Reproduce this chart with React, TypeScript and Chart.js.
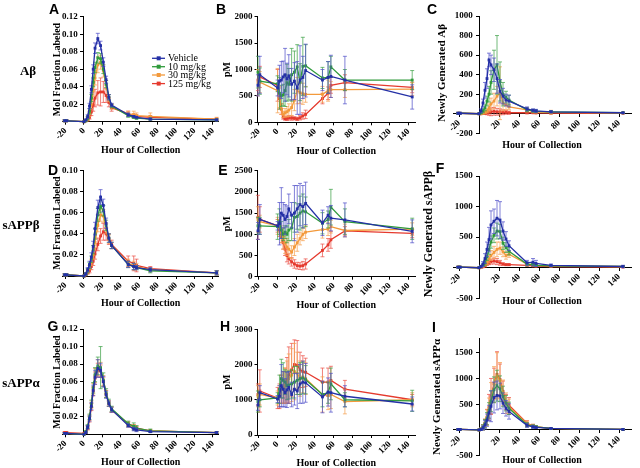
import { useEffect, useRef } from 'react';
import { Chart, registerables } from 'chart.js';
Chart.register(...registerables);

const FONT = '"Liberation Serif", "Times New Roman", serif';
const SANS = '"Liberation Sans", Arial, sans-serif';

// ---------- data ----------
const HOURS = [-21, -19, 0, 2, 4, 6, 8, 10, 12, 15, 18, 21, 24, 27, 30, 48, 54, 57, 72, 144];
const X_TICKS = [-20, 0, 20, 40, 60, 80, 100, 120, 140];
const SERIES_LABELS = ['Vehicle', '10 mg/kg', '30 mg/kg', '125 mg/kg'];
const SERIES_COLORS = ['#2430a6', '#2f9a3b', '#f39a3c', '#e53a2e'];
const ERROR_COLORS = ['rgba(80,80,200,0.8)', 'rgba(60,160,70,0.8)', 'rgba(245,160,80,0.8)', 'rgba(235,80,70,0.8)'];
const ROW_LABELS = ['A\u03b2', 'sAPP\u03b2', 'sAPP\u03b1'];
const PANEL_LETTERS = ['A', 'B', 'C', 'D', 'E', 'F', 'G', 'H', 'I'];
const FRACTION_TITLE = 'Mol Fraction Labeled';
const CONC_TITLE = 'pM';
const NEW_TITLES = ['Newly Generated A\u03b2', 'Newly Generated sAPP\u03b2', 'Newly Generated sAPP\u03b1'];
const X_TITLE = 'Hour of Collection';

const Y_TICKS_A = [0, 0.02, 0.04, 0.06, 0.08, 0.1, 0.12];
const Y_TICKS_B = [0, 500, 1000, 1500, 2000];
const Y_TICKS_C = [-200, 0, 200, 400, 600, 800, 1000];
const Y_TICKS_D = [0, 0.02, 0.04, 0.06, 0.08, 0.1];
const Y_TICKS_E = [0, 500, 1000, 1500, 2000, 2500];
const Y_TICKS_F = [-500, 0, 500, 1000, 1500];
const Y_TICKS_G = [0, 0.02, 0.04, 0.06, 0.08, 0.1, 0.12];
const Y_TICKS_H = [0, 1000, 2000, 3000];
const Y_TICKS_I = [-500, 0, 500, 1000, 1500];

// Panel A: Abeta mol fraction labeled
const A_VEH = [0.001, 0.001, 0, 0.002, 0.006, 0.018, 0.037, 0.060, 0.084, 0.095, 0.087, 0.068, 0.048, 0.028, 0.019, 0.008, 0.006, 0.005, 0.003, 0.002];
const A_VEH_E = [0.001, 0.001, 0, 0.001, 0.002, 0.003, 0.004, 0.005, 0.006, 0.006, 0.005, 0.005, 0.004, 0.003, 0.002, 0.002, 0.001, 0.001, 0.001, 0.001];
const A_10 = [0.001, 0.001, 0, 0.001, 0.004, 0.012, 0.027, 0.045, 0.062, 0.073, 0.072, 0.060, 0.043, 0.028, 0.018, 0.007, 0.005, 0.004, 0.003, 0.002];
const A_10_E = [0.001, 0.001, 0, 0.001, 0.002, 0.003, 0.004, 0.005, 0.006, 0.006, 0.006, 0.005, 0.004, 0.003, 0.002, 0.002, 0.001, 0.001, 0.001, 0.001];
const A_30 = [0.001, 0.001, 0, 0.001, 0.003, 0.009, 0.020, 0.035, 0.050, 0.065, 0.068, 0.058, 0.042, 0.027, 0.017, 0.009, 0.008, 0.007, 0.006, 0.003];
const A_30_E = [0.001, 0.001, 0, 0.001, 0.002, 0.003, 0.005, 0.006, 0.008, 0.009, 0.008, 0.007, 0.005, 0.004, 0.003, 0.003, 0.004, 0.003, 0.004, 0.002];
const A_125 = [0.001, 0.001, 0, 0.001, 0.002, 0.005, 0.011, 0.019, 0.027, 0.033, 0.034, 0.034, 0.030, 0.022, 0.016, 0.009, 0.007, 0.006, 0.005, 0.003];
const A_125_E = [0.001, 0.001, 0, 0.001, 0.001, 0.002, 0.004, 0.007, 0.010, 0.014, 0.016, 0.012, 0.008, 0.005, 0.004, 0.003, 0.002, 0.002, 0.002, 0.001];

// Panel B: Abeta pM
const B_VEH = [700, 900, 650, 780, 800, 860, 900, 820, 880, 720, 780, 650, 800, 850, 980, 800, 850, 870, 800, 480];
const B_VEH_E = [200, 350, 150, 300, 350, 300, 500, 300, 400, 300, 350, 500, 650, 400, 500, 200, 300, 400, 450, 230];
const B_10 = [950, 780, 730, 550, 500, 520, 600, 750, 720, 900, 950, 1050, 760, 1060, 1070, 840, 850, 1050, 800, 800];
const B_10_E = [300, 250, 150, 300, 200, 200, 300, 350, 300, 500, 400, 420, 350, 550, 400, 200, 300, 200, 200, 180];
const B_30 = [750, 760, 600, 480, 250, 150, 180, 200, 230, 280, 420, 600, 560, 540, 530, 530, 600, 620, 620, 630];
const B_30_E = [250, 200, 420, 200, 100, 60, 80, 100, 120, 150, 200, 250, 200, 200, 150, 150, 200, 150, 150, 120];
const B_125 = [800, 860, 700, 450, 250, 100, 70, 75, 85, 80, 75, 65, 85, 120, 150, 450, 550, 700, 750, 660];
const B_125_E = [200, 200, 300, 200, 100, 40, 30, 40, 40, 40, 30, 30, 40, 60, 80, 100, 120, 150, 150, 100];

// Panel C: newly generated Abeta
const C_VEH = [5, 5, 0, 30, 110, 240, 360, 550, 500, 450, 360, 230, 180, 140, 130, 50, 35, 30, 20, 10];
const C_VEH_E = [10, 10, 0, 20, 40, 80, 100, 70, 100, 120, 150, 120, 80, 60, 60, 20, 15, 15, 10, 5];
const C_10 = [5, 5, 0, 10, 30, 60, 130, 200, 320, 450, 500, 330, 200, 170, 140, 40, 30, 25, 20, 10];
const C_10_E = [5, 5, 0, 10, 20, 30, 50, 80, 120, 200, 300, 200, 120, 60, 50, 20, 15, 15, 10, 5];
const C_30 = [5, 5, 0, 0, 5, 15, 30, 60, 100, 130, 180, 210, 110, 90, 70, 40, 25, 20, 15, 10];
const C_30_E = [5, 5, 0, 5, 5, 10, 20, 40, 60, 80, 100, 270, 80, 50, 30, 20, 15, 10, 20, 5];
const C_125 = [5, 5, 0, 0, 2, 5, 10, 15, 20, 25, 20, 20, 15, 15, 10, 10, 10, 8, 6, 5];
const C_125_E = [5, 5, 0, 2, 5, 10, 20, 30, 40, 40, 35, 30, 25, 20, 15, 10, 8, 6, 5, 4];

// Panel D: sAPPbeta mol fraction labeled
const D_VEH = [0.001, 0.001, 0, 0.002, 0.006, 0.011, 0.018, 0.028, 0.045, 0.065, 0.075, 0.067, 0.050, 0.036, 0.029, 0.011, 0.009, 0.008, 0.006, 0.003];
const D_VEH_E = [0.001, 0.001, 0, 0.001, 0.002, 0.003, 0.004, 0.005, 0.006, 0.007, 0.007, 0.006, 0.005, 0.004, 0.003, 0.003, 0.003, 0.002, 0.002, 0.002];
const D_10 = [0.001, 0.001, 0, 0.002, 0.005, 0.010, 0.016, 0.025, 0.040, 0.058, 0.066, 0.062, 0.048, 0.036, 0.029, 0.011, 0.009, 0.008, 0.005, 0.003];
const D_10_E = [0.001, 0.001, 0, 0.001, 0.002, 0.003, 0.003, 0.004, 0.005, 0.006, 0.006, 0.005, 0.005, 0.004, 0.003, 0.003, 0.003, 0.002, 0.002, 0.002];
const D_30 = [0.001, 0.001, 0, 0.002, 0.004, 0.008, 0.013, 0.020, 0.032, 0.048, 0.058, 0.057, 0.045, 0.035, 0.029, 0.012, 0.010, 0.009, 0.006, 0.003];
const D_30_E = [0.001, 0.001, 0, 0.001, 0.002, 0.002, 0.003, 0.004, 0.005, 0.006, 0.006, 0.006, 0.005, 0.004, 0.003, 0.004, 0.004, 0.003, 0.002, 0.002];
const D_125 = [0.001, 0.001, 0, 0.001, 0.003, 0.005, 0.009, 0.014, 0.021, 0.030, 0.038, 0.042, 0.040, 0.035, 0.030, 0.014, 0.012, 0.010, 0.007, 0.003];
const D_125_E = [0.001, 0.001, 0, 0.001, 0.001, 0.002, 0.003, 0.004, 0.005, 0.006, 0.007, 0.008, 0.006, 0.005, 0.004, 0.005, 0.007, 0.006, 0.002, 0.002];

// Panel E: sAPPbeta pM
const E_VEH = [1080, 1350, 1200, 1250, 1500, 1450, 1350, 1420, 1600, 1450, 1500, 1600, 1700, 1650, 1730, 1270, 1450, 1380, 1340, 1070];
const E_VEH_E = [200, 350, 100, 500, 600, 300, 350, 250, 350, 300, 650, 550, 500, 500, 500, 300, 200, 300, 400, 270];
const E_10 = [1200, 1200, 1180, 1300, 1100, 1000, 1050, 1000, 1100, 1150, 1400, 1420, 1500, 1550, 1530, 1260, 1350, 1640, 1300, 1130];
const E_10_E = [200, 200, 300, 300, 200, 150, 150, 200, 250, 300, 350, 300, 400, 400, 350, 250, 200, 420, 300, 250];
const E_30 = [1350, 1300, 1200, 1150, 1000, 900, 800, 700, 650, 580, 700, 800, 900, 1000, 1050, 1110, 1120, 1180, 1090, 1120];
const E_30_E = [300, 150, 200, 200, 200, 250, 250, 200, 200, 150, 200, 200, 150, 150, 150, 200, 150, 150, 150, 150];
const E_125 = [1400, 1350, 1200, 1100, 950, 800, 650, 500, 420, 350, 300, 260, 250, 260, 300, 620, 750, 870, 1080, 1020];
const E_125_E = [520, 300, 150, 150, 150, 150, 150, 150, 120, 100, 100, 80, 80, 100, 120, 150, 150, 200, 100, 100];

// Panel F: newly generated sAPPbeta
const F_VEH = [10, 10, 0, 20, 60, 150, 300, 460, 700, 760, 810, 780, 600, 470, 360, 80, 90, 70, 40, 20];
const F_VEH_E = [10, 10, 0, 20, 40, 80, 120, 200, 230, 200, 290, 300, 150, 120, 80, 40, 60, 50, 20, 20];
const F_10 = [10, 10, 0, 20, 40, 80, 180, 300, 420, 530, 600, 590, 400, 330, 270, 60, 50, 40, 30, 20];
const F_10_E = [10, 10, 0, 10, 20, 40, 60, 80, 100, 120, 130, 120, 100, 80, 60, 30, 20, 20, 10, 10];
const F_30 = [10, 10, 0, 10, 30, 50, 90, 140, 200, 250, 300, 320, 260, 200, 220, 60, 50, 40, 30, 20];
const F_30_E = [10, 10, 0, 10, 15, 20, 40, 60, 80, 100, 120, 100, 80, 60, 50, 20, 20, 15, 10, 10];
const F_125 = [10, 10, 0, 5, 15, 30, 60, 80, 100, 110, 100, 80, 60, 50, 50, 40, 30, 25, 20, 10];
const F_125_E = [5, 5, 0, 5, 10, 15, 20, 30, 40, 50, 50, 40, 20, 15, 15, 10, 10, 10, 5, 5];

// Panel G: sAPPalpha mol fraction labeled
const G_VEH = [0.001, 0.001, 0, 0.002, 0.008, 0.018, 0.032, 0.050, 0.065, 0.075, 0.073, 0.060, 0.045, 0.035, 0.028, 0.010, 0.006, 0.005, 0.003, 0.002];
const G_VEH_E = [0.001, 0.001, 0, 0.001, 0.002, 0.003, 0.004, 0.006, 0.008, 0.010, 0.008, 0.006, 0.004, 0.003, 0.003, 0.002, 0.002, 0.002, 0.001, 0.001];
const G_10 = [0.001, 0.001, 0, 0.003, 0.009, 0.020, 0.035, 0.053, 0.068, 0.078, 0.076, 0.062, 0.047, 0.036, 0.029, 0.012, 0.009, 0.007, 0.004, 0.002];
const G_10_E = [0.001, 0.001, 0, 0.001, 0.002, 0.003, 0.004, 0.006, 0.008, 0.010, 0.024, 0.008, 0.005, 0.004, 0.003, 0.003, 0.004, 0.003, 0.002, 0.001];
const G_30 = [0.001, 0.001, 0, 0.002, 0.008, 0.019, 0.034, 0.052, 0.067, 0.076, 0.074, 0.061, 0.046, 0.035, 0.028, 0.011, 0.008, 0.006, 0.004, 0.002];
const G_30_E = [0.001, 0.001, 0, 0.001, 0.002, 0.003, 0.004, 0.006, 0.008, 0.009, 0.008, 0.006, 0.004, 0.003, 0.003, 0.003, 0.003, 0.002, 0.001, 0.001];
const G_125 = [0.002, 0.002, 0.001, 0.002, 0.007, 0.017, 0.031, 0.049, 0.064, 0.073, 0.072, 0.060, 0.046, 0.035, 0.028, 0.012, 0.009, 0.007, 0.004, 0.002];
const G_125_E = [0.001, 0.001, 0, 0.001, 0.002, 0.003, 0.004, 0.005, 0.007, 0.008, 0.007, 0.005, 0.004, 0.003, 0.003, 0.002, 0.002, 0.002, 0.001, 0.001];

// Panel H: sAPPalpha pM
const H_VEH = [850, 1200, 1020, 1100, 1400, 1300, 1200, 1280, 1350, 1150, 1300, 1250, 1450, 1500, 1480, 1080, 1220, 1200, 1100, 880];
const H_VEH_E = [150, 200, 100, 300, 600, 500, 400, 500, 450, 350, 450, 500, 550, 600, 550, 450, 400, 550, 300, 200];
const H_10 = [950, 1000, 1050, 1300, 1600, 1550, 1500, 1400, 1420, 1450, 1500, 1550, 1600, 1620, 1570, 1150, 1200, 1450, 1000, 970];
const H_10_E = [300, 200, 150, 400, 550, 500, 350, 400, 400, 400, 450, 400, 450, 450, 400, 350, 300, 450, 200, 300];
const H_30 = [1100, 1150, 1050, 1100, 1300, 1350, 1400, 1500, 1600, 1700, 1800, 1750, 1600, 1650, 1600, 1150, 1120, 1150, 950, 1000];
const H_30_E = [300, 300, 200, 300, 400, 450, 500, 600, 700, 750, 800, 600, 500, 450, 450, 500, 400, 400, 350, 200];
const H_125 = [1150, 1250, 1050, 1100, 1300, 1350, 1400, 1550, 1700, 1850, 2000, 1980, 1850, 1800, 1780, 1500, 1500, 1550, 1300, 1000];
const H_125_E = [300, 600, 300, 350, 400, 450, 500, 650, 800, 750, 700, 700, 500, 450, 400, 400, 400, 400, 250, 150];

// Panel I: newly generated sAPPalpha
const I_VEH = [10, 10, 0, 10, 40, 100, 190, 330, 460, 630, 670, 660, 520, 420, 360, 90, 60, 50, 30, 10];
const I_VEH_E = [10, 10, 0, 20, 40, 80, 120, 150, 300, 300, 280, 250, 200, 150, 150, 40, 30, 20, 10, 10];
const I_10 = [10, 10, 0, 15, 50, 120, 220, 380, 560, 780, 860, 800, 650, 520, 420, 100, 70, 60, 30, 10];
const I_10_E = [10, 10, 0, 20, 50, 80, 120, 150, 200, 250, 300, 250, 200, 150, 120, 40, 30, 20, 10, 10];
const I_30 = [10, 10, 0, 15, 50, 130, 240, 420, 620, 880, 1050, 960, 720, 520, 450, 120, 80, 60, 30, 10];
const I_30_E = [10, 10, 0, 20, 50, 80, 150, 200, 300, 350, 450, 350, 250, 200, 150, 50, 30, 20, 10, 10];
const I_125 = [10, 10, 0, 15, 50, 130, 250, 440, 650, 900, 1080, 980, 750, 540, 480, 130, 80, 60, 30, 10];
const I_125_E = [10, 10, 0, 20, 50, 80, 150, 250, 350, 300, 440, 300, 200, 150, 150, 50, 30, 20, 10, 10];

// ---------- layout ----------
type Pos = 'edge' | 'zero';
interface Panel {
  key: string;
  values: number[][];
  errors: number[][];
  yTicks: number[];
  yMin: number; yMax: number;
  xMin: number; xMax: number;
  area: { l: number; t: number; r: number; b: number };
  yPos: Pos; xPos: Pos;
  xh: number;
  yTitle: string; yTitleX: number; yTitleY: number; yTitleSize: number;
  decimals: number;
  hideYZero: boolean; hideXZero: boolean;
  legend?: boolean;
}

const YW = 40;
const COL1 = { xMin: -23, xMax: 146, l: 62.8, r: 218.5 };
const COL2 = { xMin: -21.5, xMax: 147, l: 257.5, r: 415 };
const COL3 = { xMin: -26, xMax: 152, l: 453, r: 631 };

const PANELS: Panel[] = [
  { key: 'A', values: [A_VEH, A_10, A_30, A_125], errors: [A_VEH_E, A_10_E, A_30_E, A_125_E], yTicks: Y_TICKS_A, yMin: 0, yMax: 0.12,
    xMin: COL1.xMin, xMax: COL1.xMax, area: { l: COL1.l, r: COL1.r, t: 16.7, b: 121.7 }, yPos: 'zero', xPos: 'edge', xh: 34.3,
    yTitle: FRACTION_TITLE, yTitleX: 57, yTitleY: 69.5, yTitleSize: 10, decimals: 2, hideYZero: true, hideXZero: false, legend: true },
  { key: 'B', values: [B_VEH, B_10, B_30, B_125], errors: [B_VEH_E, B_10_E, B_30_E, B_125_E], yTicks: Y_TICKS_B, yMin: 0, yMax: 2000,
    xMin: COL2.xMin, xMax: COL2.xMax, area: { l: COL2.l, r: COL2.r, t: 16.7, b: 122.3 }, yPos: 'edge', xPos: 'edge', xh: 35.2,
    yTitle: CONC_TITLE, yTitleX: 227, yTitleY: 69.5, yTitleSize: 10, decimals: 0, hideYZero: false, hideXZero: false },
  { key: 'C', values: [C_VEH, C_10, C_30, C_125], errors: [C_VEH_E, C_10_E, C_30_E, C_125_E], yTicks: Y_TICKS_C, yMin: -200, yMax: 1000,
    xMin: COL3.xMin, xMax: COL3.xMax, area: { l: COL3.l, r: COL3.r, t: 16, b: 133.3 }, yPos: 'zero', xPos: 'zero', xh: 37.2,
    yTitle: NEW_TITLES[0], yTitleX: 442, yTitleY: 73, yTitleSize: 11, decimals: 0, hideYZero: true, hideXZero: true },
  { key: 'D', values: [D_VEH, D_10, D_30, D_125], errors: [D_VEH_E, D_10_E, D_30_E, D_125_E], yTicks: Y_TICKS_D, yMin: 0, yMax: 0.1,
    xMin: COL1.xMin, xMax: COL1.xMax, area: { l: COL1.l, r: COL1.r, t: 170.7, b: 276 }, yPos: 'zero', xPos: 'edge', xh: 33,
    yTitle: FRACTION_TITLE, yTitleX: 57, yTitleY: 223, yTitleSize: 10, decimals: 2, hideYZero: true, hideXZero: false },
  { key: 'E', values: [E_VEH, E_10, E_30, E_125], errors: [E_VEH_E, E_10_E, E_30_E, E_125_E], yTicks: Y_TICKS_E, yMin: 0, yMax: 2500,
    xMin: COL2.xMin, xMax: COL2.xMax, area: { l: COL2.l, r: COL2.r, t: 170.7, b: 276.7 }, yPos: 'edge', xPos: 'edge', xh: 34.3,
    yTitle: CONC_TITLE, yTitleX: 227, yTitleY: 223.7, yTitleSize: 10, decimals: 0, hideYZero: false, hideXZero: false },
  { key: 'F', values: [F_VEH, F_10, F_30, F_125], errors: [F_VEH_E, F_10_E, F_30_E, F_125_E], yTicks: Y_TICKS_F, yMin: -500, yMax: 1500,
    xMin: COL3.xMin, xMax: COL3.xMax, area: { l: COL3.l, r: COL3.r, t: 176, b: 298.3 }, yPos: 'zero', xPos: 'zero', xh: 39.3,
    yTitle: NEW_TITLES[1], yTitleX: 429, yTitleY: 234, yTitleSize: 12, decimals: 0, hideYZero: true, hideXZero: true },
  { key: 'G', values: [G_VEH, G_10, G_30, G_125], errors: [G_VEH_E, G_10_E, G_30_E, G_125_E], yTicks: Y_TICKS_G, yMin: 0, yMax: 0.12,
    xMin: COL1.xMin, xMax: COL1.xMax, area: { l: COL1.l, r: COL1.r, t: 329, b: 434.3 }, yPos: 'zero', xPos: 'edge', xh: 33.7,
    yTitle: FRACTION_TITLE, yTitleX: 57, yTitleY: 382, yTitleSize: 10, decimals: 2, hideYZero: true, hideXZero: false },
  { key: 'H', values: [H_VEH, H_10, H_30, H_125], errors: [H_VEH_E, H_10_E, H_30_E, H_125_E], yTicks: Y_TICKS_H, yMin: 0, yMax: 3000,
    xMin: COL2.xMin, xMax: COL2.xMax, area: { l: COL2.l, r: COL2.r, t: 329.3, b: 435 }, yPos: 'edge', xPos: 'edge', xh: 34,
    yTitle: CONC_TITLE, yTitleX: 227, yTitleY: 382, yTitleSize: 10, decimals: 0, hideYZero: false, hideXZero: false },
  { key: 'I', values: [I_VEH, I_10, I_30, I_125], errors: [I_VEH_E, I_10_E, I_30_E, I_125_E], yTicks: Y_TICKS_I, yMin: -500, yMax: 1780,
    xMin: COL3.xMin, xMax: COL3.xMax, area: { l: COL3.l, r: COL3.r, t: 338.3, b: 455.7 }, yPos: 'zero', xPos: 'zero', xh: 36.1,
    yTitle: NEW_TITLES[2], yTitleX: 437, yTitleY: 397, yTitleSize: 11, decimals: 0, hideYZero: true, hideXZero: true },
];

const LETTER_POS = [[54, 9], [221, 9], [432, 9], [53, 170], [223, 170], [440, 168], [53, 326], [225, 326], [434, 327]];
const ROW_POS = [[28, 70], [21, 224], [21, 382]];

// ---------- plugins ----------
const errorBarPlugin = {
  id: 'errorBars',
  beforeDatasetDraw(chart: any, args: any) {
    const ds = chart.data.datasets[args.index];
    const errs: number[] | undefined = ds.errors;
    if (!errs) return;
    const ys = chart.scales.y;
    const ctx = chart.ctx as CanvasRenderingContext2D;
    const a = chart.chartArea;
    ctx.save();
    ctx.beginPath();
    ctx.rect(a.left - 5, a.top - 3, a.right - a.left + 10, a.bottom - a.top + 3);
    ctx.clip();
    ctx.strokeStyle = ds.errorColor;
    ctx.lineWidth = 0.9;
    args.meta.data.forEach((pt: any, i: number) => {
      const e = errs[i];
      if (!e) return;
      const v = ds.data[i].y;
      const top = ys.getPixelForValue(v + e);
      const bot = ys.getPixelForValue(v - e);
      ctx.beginPath();
      ctx.moveTo(pt.x, top); ctx.lineTo(pt.x, bot);
      ctx.moveTo(pt.x - 2, top); ctx.lineTo(pt.x + 2, top);
      ctx.moveTo(pt.x - 2, bot); ctx.lineTo(pt.x + 2, bot);
      ctx.stroke();
    });
    ctx.restore();
  },
};

function makeYTitlePlugin(p: Panel) {
  return {
    id: 'yTitle' + p.key,
    afterDraw(chart: any) {
      const ctx = chart.ctx as CanvasRenderingContext2D;
      ctx.save();
      ctx.translate(p.yTitleX, p.yTitleY);
      ctx.rotate(-Math.PI / 2);
      ctx.font = `bold ${p.yTitleSize}px ${FONT}`;
      ctx.fillStyle = '#000';
      ctx.textAlign = 'center';
      ctx.textBaseline = 'middle';
      ctx.fillText(p.yTitle, 0, 0);
      ctx.restore();
    },
  };
}

const legendPlugin = {
  id: 'insideLegend',
  afterDraw(chart: any) {
    const ctx = chart.ctx as CanvasRenderingContext2D;
    const rows = [58.3, 66.7, 75, 83.6];
    ctx.save();
    ctx.font = `10px ${FONT}`;
    ctx.textBaseline = 'middle';
    chart.data.datasets.forEach((ds: any, i: number) => {
      const y = rows[i];
      ctx.strokeStyle = ds.borderColor;
      ctx.lineWidth = 1.3;
      ctx.beginPath(); ctx.moveTo(152, y); ctx.lineTo(165, y); ctx.stroke();
      ctx.fillStyle = ds.borderColor;
      ctx.fillRect(156.7, y - 2, 4, 4);
      ctx.fillStyle = '#000';
      ctx.fillText(ds.label, 168, y + 0.5);
    });
    ctx.restore();
  },
};

function buildConfig(p: Panel) {
  const tickFont = { family: FONT, size: 9, weight: 'bold' as const };
  const datasets = p.values.map((vals, k) => ({
    label: SERIES_LABELS[k],
    data: HOURS.map((h, i) => ({ x: h, y: vals[i] })),
    errors: p.errors[k],
    errorColor: ERROR_COLORS[k],
    borderColor: SERIES_COLORS[k],
    backgroundColor: SERIES_COLORS[k],
    borderWidth: 1.3,
    pointStyle: 'rect',
    pointRadius: 2,
    pointBorderWidth: 0,
    tension: 0,
    clip: false,
    order: k,
  }));
  const pad = {
    left: p.yPos === 'edge' ? p.area.l - YW : p.area.l,
    right: 640 - p.area.r,
    top: p.area.t,
    bottom: p.xPos === 'edge' ? 468 - p.area.b - p.xh : 468 - p.area.b,
  };
  const grid = { display: true, drawOnChartArea: false, drawTicks: true, tickLength: 3, color: '#000', lineWidth: 1 };
  const border = { display: true, color: '#000', width: 1 };
  const plugins: any[] = [errorBarPlugin, makeYTitlePlugin(p)];
  if (p.legend) plugins.push(legendPlugin);
  return {
    type: 'line',
    data: { datasets },
    options: {
      responsive: false,
      animation: false,
      events: [],
      layout: { padding: pad },
      plugins: { legend: { display: false }, tooltip: { enabled: false } },
      scales: {
        x: {
          type: 'linear',
          position: p.xPos === 'edge' ? 'bottom' : { y: 0 },
          min: p.xMin, max: p.xMax,
          afterFit: (s: any) => { s.height = p.xh; },
          afterBuildTicks: (s: any) => { s.ticks = X_TICKS.map((v) => ({ value: v })); },
          ticks: {
            autoSkip: false, minRotation: 45, maxRotation: 45, padding: 1, color: '#000', font: tickFont,
            callback: (v: number) => (p.hideXZero && v === 0 ? '' : String(v)),
          },
          grid, border,
          title: { display: true, text: X_TITLE, color: '#000', padding: 0, font: { family: FONT, size: 10, weight: 'bold' } },
        },
        y: {
          type: 'linear',
          position: p.yPos === 'edge' ? 'left' : { x: 0 },
          min: p.yMin, max: p.yMax,
          afterFit: (s: any) => { if (p.yPos === 'edge') s.width = YW; },
          afterBuildTicks: (s: any) => { s.ticks = p.yTicks.map((v) => ({ value: v })); },
          ticks: {
            autoSkip: false, padding: 2, color: '#000', font: tickFont,
            callback: (v: number) => {
              if (p.hideYZero && v === 0) return '';
              const s = p.decimals ? v.toFixed(p.decimals) : String(v);
              return p.yPos === 'zero' ? s + '\u2002\u2009' : s;
            },
          },
          grid, border,
          title: { display: false },
        },
      },
    },
    plugins,
  };
}

function PanelChart({ panel }: { panel: Panel }) {
  const ref = useRef<HTMLCanvasElement>(null);
  useEffect(() => {
    if (!ref.current) return;
    const chart = new Chart(ref.current, buildConfig(panel) as any);
    return () => chart.destroy();
  }, [panel]);
  return (
    <canvas ref={ref} width={640} height={468}
      style={{ position: 'absolute', left: 0, top: 0, width: 640, height: 468 }} />
  );
}

export default function App() {
  return (
    <div style={{ position: 'fixed', left: 0, top: 0, width: 640, height: 468, background: '#fff', overflow: 'hidden' }}>
      {PANELS.map((p) => <PanelChart key={p.key} panel={p} />)}
      {PANEL_LETTERS.map((t, i) => (
        <div key={t} style={{ position: 'absolute', left: LETTER_POS[i][0], top: LETTER_POS[i][1], transform: 'translate(-50%, -50%)',
          font: `bold 14px ${SANS}`, lineHeight: 1, color: '#000' }}>{t}</div>
      ))}
      {ROW_LABELS.map((t, i) => (
        <div key={t} style={{ position: 'absolute', left: ROW_POS[i][0], top: ROW_POS[i][1], transform: 'translate(-50%, -50%)',
          font: `bold 13px ${FONT}`, lineHeight: 1, color: '#000', whiteSpace: 'nowrap' }}>{t}</div>
      ))}
    </div>
  );
}
